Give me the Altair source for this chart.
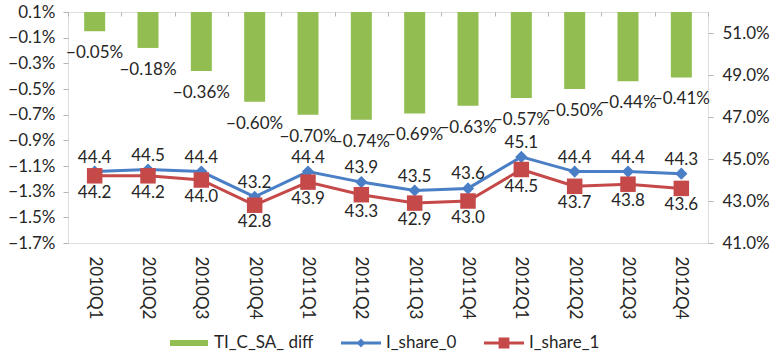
import altair as alt
import pandas as pd

quarters = ["2010Q1", "2010Q2", "2010Q3", "2010Q4",
            "2011Q1", "2011Q2", "2011Q3", "2011Q4",
            "2012Q1", "2012Q2", "2012Q3", "2012Q4"]
# TI_C_SA_ diff, as fractions
ti_diff = [-0.0005, -0.0018, -0.0036, -0.0060, -0.0070, -0.0074,
           -0.0069, -0.0063, -0.0057, -0.0050, -0.0044, -0.0041]
# shares, in percent
share_0 = [44.4, 44.5, 44.4, 43.2, 44.4, 43.9, 43.5, 43.6, 45.1, 44.4, 44.4, 44.3]
share_1 = [44.2, 44.2, 44.0, 42.8, 43.9, 43.3, 42.9, 43.0, 44.5, 43.7, 43.8, 43.6]

series_names = ["TI_C_SA_ diff", "I_share_0", "I_share_1"]
series_colors = ["#92bd50", "#4a7fc6", "#c6494a"]
left_ticks = [0.001, -0.001, -0.003, -0.005, -0.007, -0.009, -0.011, -0.013, -0.015, -0.017]
right_ticks = [41, 43, 45, 47, 49, 51]

FONT = "Lato"
FS = 17
TXT = "#262626"
GRAY = "#b4b4b4"

bars_df = pd.DataFrame({"q": quarters, "v": ti_diff})
lines_df = pd.DataFrame({
    "q": quarters * 2,
    "v": share_0 + share_1,
    "series": ["I_share_0"] * 12 + ["I_share_1"] * 12,
})
legend_df = pd.DataFrame({"q": quarters[:3], "v": [None] * 3, "series": series_names})

x_scale = alt.Scale(paddingInner=0, paddingOuter=0)
# category labels along the bottom
x_enc = alt.X("q:N", sort=quarters, title=None, scale=x_scale,
              axis=alt.Axis(labelAngle=90, labelAlign="left", labelBaseline="middle",
                            labelPadding=13, ticks=False, domain=False,
                            labelFont=FONT, labelFontSize=FS, labelColor=TXT))
# short category-boundary ticks hanging from the top edge
x_top = alt.X("q:N", sort=quarters, title=None, scale=x_scale,
              axis=alt.Axis(orient="top", labels=False, domain=False,
                            tickBand="extent", tickSize=4, offset=-4,
                            tickColor=GRAY))

y_left = alt.Y("v:Q", title=None,
               scale=alt.Scale(domain=[-0.017, 0.001], nice=False, zero=False),
               axis=alt.Axis(values=left_ticks, format=".1%", orient="left",
                             grid=False, domain=False, tickColor=GRAY, tickSize=5,
                             labelPadding=8, labelFont=FONT, labelFontSize=FS,
                             labelColor=TXT))

y_right = alt.Y("v:Q", title=None,
                scale=alt.Scale(domain=[41, 52], nice=False, zero=False),
                axis=alt.Axis(values=right_ticks, orient="right", grid=False,
                              domain=False, tickColor=GRAY, tickSize=5,
                              labelPadding=9,
                              labelExpr="format(datum.value, '.1f') + '%'",
                              labelFont=FONT, labelFontSize=FS, labelColor=TXT))

bars = alt.Chart(bars_df).mark_bar(color=series_colors[0], size=21).encode(
    x=x_enc, y=y_left, y2=alt.Y2(datum=0.001),
)
bar_labels = alt.Chart(bars_df).mark_text(
    baseline="top", dy=14, font=FONT, fontSize=FS, color=TXT
).encode(
    x=x_enc, y=y_left, text=alt.Text("v:Q", format=".2%"),
)
left = alt.layer(bars, bar_labels)

line0 = alt.Chart(lines_df).transform_filter("datum.series == 'I_share_0'")
line1 = alt.Chart(lines_df).transform_filter("datum.series == 'I_share_1'")

l0 = line0.mark_line(color=series_colors[1], strokeWidth=3).encode(x=x_top, y=y_right)
l1 = line1.mark_line(color=series_colors[2], strokeWidth=3).encode(x=x_top, y=y_right)
p0 = line0.mark_point(shape="diamond", filled=True, opacity=1, size=150,
                      color=series_colors[1]).encode(x=x_top, y=y_right)
p1 = line1.mark_point(shape="square", filled=True, opacity=1, size=240,
                      color=series_colors[2]).encode(x=x_top, y=y_right)
t0 = line0.mark_text(baseline="bottom", dy=-5, font=FONT, fontSize=FS, color=TXT).encode(
    x=x_top, y=y_right, text=alt.Text("v:Q", format=".1f"))
t1 = line1.mark_text(baseline="top", dy=9, font=FONT, fontSize=FS, color=TXT).encode(
    x=x_top, y=y_right, text=alt.Text("v:Q", format=".1f"))

# legend-only layer: rows carry no value, so only the legend entries appear
legend_shapes = [
    "M-0.95,-0.15H0.95V0.15H-0.95Z",
    "M-1,-0.075H1V0.075H-1Z M0,-0.22L0.22,0L0,0.22L-0.22,0Z",
    "M-1,-0.075H1V0.075H-1Z M-0.27,-0.27H0.27V0.27H-0.27Z",
]
legend_def = alt.Legend(orient="none", direction="horizontal",
                        legendX=100, legendY=310,
                        symbolSize=1600, columnPadding=26,
                        labelOffset=4, labelFont=FONT,
                        labelFontSize=FS, labelColor=TXT)
legend_layer = alt.Chart(legend_df).mark_point(filled=True, opacity=1).encode(
    x=x_top,
    y=y_right,
    color=alt.Color("series:N", title=None,
                    scale=alt.Scale(domain=series_names, range=series_colors),
                    legend=legend_def),
    shape=alt.Shape("series:N", title=None,
                    scale=alt.Scale(domain=series_names, range=legend_shapes),
                    legend=legend_def),
)

right = alt.layer(l0, l1, p0, p1, t0, t1, legend_layer)

chart = alt.layer(left, right).resolve_scale(y="independent").resolve_axis(
    x="independent", y="independent"
).properties(
    width=640, height=231,
    autosize=alt.AutoSizeParams(type="none"),
    padding={"left": 68, "top": 12, "right": 71, "bottom": 113},
).configure_view(stroke=GRAY, strokeWidth=1).configure(background="white")

chart.save("out.html", embed_options={"renderer": "svg", "actions": False})
